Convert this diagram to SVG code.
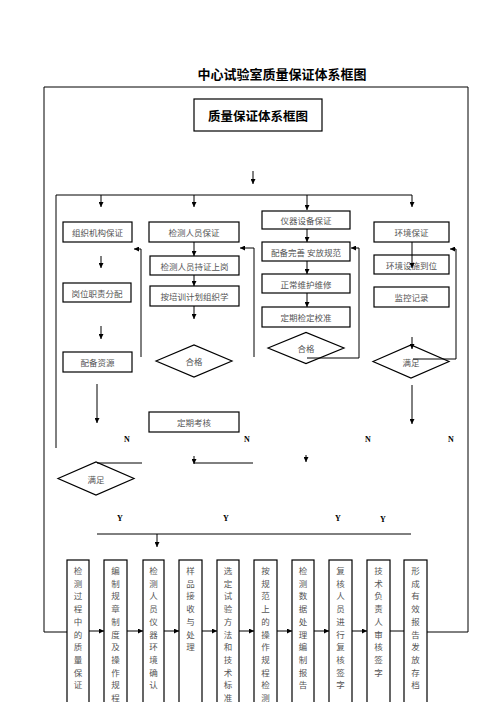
<svg xmlns="http://www.w3.org/2000/svg" width="496" height="702" viewBox="0 0 496 702">
<style>
.box{fill:#fff;stroke:#000;stroke-width:1.2}
.t{font-family:"Noto Sans CJK SC","Liberation Sans",sans-serif;font-size:8.5px;fill:#555;text-anchor:middle;dominant-baseline:central}
.b{font-family:"Noto Sans CJK SC","Liberation Sans",sans-serif;font-weight:bold;fill:#000;text-anchor:middle;dominant-baseline:central}
.c{fill:none;stroke:#000;stroke-width:1}
.l{font-family:"Liberation Serif",serif;font-size:8px;font-weight:bold;fill:#000;text-anchor:middle}
</style>
<defs>
<marker id="ah" markerWidth="5" markerHeight="5" refX="5" refY="2.5" orient="auto" markerUnits="userSpaceOnUse"><path d="M0,0 L5,2.5 L0,5 z" fill="#000"/></marker>
</defs>
<rect width="496" height="702" fill="#fff"/>
<text class="b" x="282" y="73" font-size="13">中心试验室质量保证体系框图</text>

<g id="n-title"><rect class="box" x="194" y="99" width="128" height="32"/><text class="b" x="258" y="115" font-size="12.5">质量保证体系框图</text></g>

<g id="n-org"><rect class="box" x="63" y="222" width="69" height="20"/><text class="t" x="97.5" y="232">组织机构保证</text></g>
<g id="n-duty"><rect class="box" x="63" y="283" width="68" height="19"/><text class="t" x="97" y="292.5">岗位职责分配</text></g>
<g id="n-res"><rect class="box" x="63" y="352" width="69" height="20"/><text class="t" x="97.5" y="362">配备资源</text></g>

<g id="n-staff"><rect class="box" x="149" y="222" width="90" height="20"/><text class="t" x="194" y="232">检测人员保证</text></g>
<g id="n-cert"><rect class="box" x="150" y="256" width="89" height="19"/><text class="t" x="194.5" y="265.5">检测人员持证上岗</text></g>
<g id="n-train"><rect class="box" x="150" y="286" width="89" height="20"/><text class="t" x="194.5" y="296">按培训计划组织学</text></g>
<g id="n-pass1"><polygon class="box" points="156,361 194,345 232,361 194,377"/><text class="t" x="194" y="361">合格</text></g>
<g id="n-exam"><rect class="box" x="149" y="412" width="90" height="20"/><text class="t" x="194" y="422">定期考核</text></g>

<g id="n-equip"><rect class="box" x="262" y="211" width="88" height="18"/><text class="t" x="306" y="220">仪器设备保证</text></g>
<g id="n-equip2"><rect class="box" x="262" y="242" width="88" height="19"/><text class="t" x="306" y="251.5">配备完善 安放规范</text></g>
<g id="n-maint"><rect class="box" x="262" y="274" width="88" height="19"/><text class="t" x="306" y="283.5">正常维护维修</text></g>
<g id="n-calib"><rect class="box" x="262" y="307" width="88" height="20"/><text class="t" x="306" y="317">定期检定校准</text></g>
<g id="n-pass2"><polygon class="box" points="268,348 306,332.5 344,348 306,363.5"/><text class="t" x="306" y="348">合格</text></g>

<g id="n-env"><rect class="box" x="374" y="222" width="75" height="20"/><text class="t" x="411.5" y="232">环境保证</text></g>
<g id="n-fac"><rect class="box" x="374" y="255" width="75" height="19"/><text class="t" x="411.5" y="264.5">环境设施到位</text></g>
<g id="n-mon"><rect class="box" x="374" y="287" width="75" height="20"/><text class="t" x="411.5" y="297">监控记录</text></g>
<g id="n-ok1"><polygon class="box" points="373,361.5 411,345 449,361.5 411,378"/><text class="t" x="411" y="361.5">满足</text></g>

<g id="n-ok2"><polygon class="box" points="58,478.5 96,462 134,478.5 96,495"/><text class="t" x="96" y="478.5">满足</text></g>

<g id="n-p1"><rect class="box" x="67" y="560" width="22" height="150"/><text class="t" x="78" y="570">检<tspan x="78" dy="12.7">测</tspan><tspan x="78" dy="12.7">过</tspan><tspan x="78" dy="12.7">程</tspan><tspan x="78" dy="12.7">中</tspan><tspan x="78" dy="12.7">的</tspan><tspan x="78" dy="12.7">质</tspan><tspan x="78" dy="12.7">量</tspan><tspan x="78" dy="12.7">保</tspan><tspan x="78" dy="12.7">证</tspan></text></g>
<g id="n-p2"><rect class="box" x="104" y="560" width="23" height="150"/><text class="t" x="115.5" y="570">编<tspan x="115.5" dy="12.7">制</tspan><tspan x="115.5" dy="12.7">规</tspan><tspan x="115.5" dy="12.7">章</tspan><tspan x="115.5" dy="12.7">制</tspan><tspan x="115.5" dy="12.7">度</tspan><tspan x="115.5" dy="12.7">及</tspan><tspan x="115.5" dy="12.7">操</tspan><tspan x="115.5" dy="12.7">作</tspan><tspan x="115.5" dy="12.7">规</tspan><tspan x="115.5" dy="12.7">程</tspan></text></g>
<g id="n-p3"><rect class="box" x="143" y="560" width="21" height="150"/><text class="t" x="153.5" y="570">检<tspan x="153.5" dy="12.7">测</tspan><tspan x="153.5" dy="12.7">人</tspan><tspan x="153.5" dy="12.7">员</tspan><tspan x="153.5" dy="12.7">仪</tspan><tspan x="153.5" dy="12.7">器</tspan><tspan x="153.5" dy="12.7">环</tspan><tspan x="153.5" dy="12.7">境</tspan><tspan x="153.5" dy="12.7">确</tspan><tspan x="153.5" dy="12.7">认</tspan></text></g>
<g id="n-p4"><rect class="box" x="179" y="560" width="23" height="150"/><text class="t" x="190.5" y="570">样<tspan x="190.5" dy="12.7">品</tspan><tspan x="190.5" dy="12.7">接</tspan><tspan x="190.5" dy="12.7">收</tspan><tspan x="190.5" dy="12.7">与</tspan><tspan x="190.5" dy="12.7">处</tspan><tspan x="190.5" dy="12.7">理</tspan></text></g>
<g id="n-p5"><rect class="box" x="217" y="560" width="22" height="150"/><text class="t" x="228" y="570">选<tspan x="228" dy="12.7">定</tspan><tspan x="228" dy="12.7">试</tspan><tspan x="228" dy="12.7">验</tspan><tspan x="228" dy="12.7">方</tspan><tspan x="228" dy="12.7">法</tspan><tspan x="228" dy="12.7">和</tspan><tspan x="228" dy="12.7">技</tspan><tspan x="228" dy="12.7">术</tspan><tspan x="228" dy="12.7">标</tspan><tspan x="228" dy="12.7">准</tspan></text></g>
<g id="n-p6"><rect class="box" x="254" y="560" width="23" height="150"/><text class="t" x="265.5" y="570">按<tspan x="265.5" dy="12.7">规</tspan><tspan x="265.5" dy="12.7">范</tspan><tspan x="265.5" dy="12.7">上</tspan><tspan x="265.5" dy="12.7">的</tspan><tspan x="265.5" dy="12.7">操</tspan><tspan x="265.5" dy="12.7">作</tspan><tspan x="265.5" dy="12.7">规</tspan><tspan x="265.5" dy="12.7">程</tspan><tspan x="265.5" dy="12.7">检</tspan><tspan x="265.5" dy="12.7">测</tspan></text></g>
<g id="n-p7"><rect class="box" x="292" y="560" width="22" height="150"/><text class="t" x="303" y="570">检<tspan x="303" dy="12.7">测</tspan><tspan x="303" dy="12.7">数</tspan><tspan x="303" dy="12.7">据</tspan><tspan x="303" dy="12.7">处</tspan><tspan x="303" dy="12.7">理</tspan><tspan x="303" dy="12.7">编</tspan><tspan x="303" dy="12.7">制</tspan><tspan x="303" dy="12.7">报</tspan><tspan x="303" dy="12.7">告</tspan></text></g>
<g id="n-p8"><rect class="box" x="329" y="560" width="23" height="150"/><text class="t" x="340.5" y="570">复<tspan x="340.5" dy="12.7">核</tspan><tspan x="340.5" dy="12.7">人</tspan><tspan x="340.5" dy="12.7">员</tspan><tspan x="340.5" dy="12.7">进</tspan><tspan x="340.5" dy="12.7">行</tspan><tspan x="340.5" dy="12.7">复</tspan><tspan x="340.5" dy="12.7">核</tspan><tspan x="340.5" dy="12.7">签</tspan><tspan x="340.5" dy="12.7">字</tspan></text></g>
<g id="n-p9"><rect class="box" x="367" y="560" width="23" height="150"/><text class="t" x="378.5" y="570">技<tspan x="378.5" dy="12.7">术</tspan><tspan x="378.5" dy="12.7">负</tspan><tspan x="378.5" dy="12.7">责</tspan><tspan x="378.5" dy="12.7">人</tspan><tspan x="378.5" dy="12.7">审</tspan><tspan x="378.5" dy="12.7">核</tspan><tspan x="378.5" dy="12.7">签</tspan><tspan x="378.5" dy="12.7">字</tspan></text></g>
<g id="n-p10"><rect class="box" x="404" y="560" width="23" height="150"/><text class="t" x="415.5" y="570">形<tspan x="415.5" dy="12.7">成</tspan><tspan x="415.5" dy="12.7">有</tspan><tspan x="415.5" dy="12.7">效</tspan><tspan x="415.5" dy="12.7">报</tspan><tspan x="415.5" dy="12.7">告</tspan><tspan x="415.5" dy="12.7">发</tspan><tspan x="415.5" dy="12.7">放</tspan><tspan x="415.5" dy="12.7">存</tspan><tspan x="415.5" dy="12.7">档</tspan></text></g>

<g id="connectors">
<path class="c" d="M67,632 H44 V87 H468 V632 H427" stroke-width="1.3"/>
<path class="c" d="M253,171 V184" marker-end="url(#ah)"/>
<path class="c" d="M56,448 V195 H412" stroke="#555"/>
<path class="c" d="M101,195 V207" marker-end="url(#ah)"/>
<path class="c" d="M194,195 V207" marker-end="url(#ah)"/>
<path class="c" d="M307,195 V210" marker-end="url(#ah)"/>
<path class="c" d="M412,195 V207" marker-end="url(#ah)"/>
<path class="c" d="M101,256 V268" marker-end="url(#ah)"/>
<path class="c" d="M101,326 V339" marker-end="url(#ah)"/>
<path class="c" d="M97,384 V423" marker-end="url(#ah)"/>
<path class="c" d="M194,242 V256" marker-end="url(#ah)"/>
<path class="c" d="M194,275 V286" marker-end="url(#ah)"/>
<path class="c" d="M194,306 V319" marker-end="url(#ah)"/>
<path class="c" d="M141,357 V249 H134" marker-end="url(#ah)"/>
<path class="c" d="M254,357 V248 H240" marker-end="url(#ah)"/>
<path class="c" d="M307,229 V242" marker-end="url(#ah)"/>
<path class="c" d="M307,261 V274" marker-end="url(#ah)"/>
<path class="c" d="M307,293 V307" marker-end="url(#ah)"/>
<path class="c" d="M307,358 H359 V248 H351" marker-end="url(#ah)"/>
<path class="c" d="M412,242 V268" marker-end="url(#ah)"/>
<path class="c" d="M413,359 H456 V249 H450" marker-end="url(#ah)"/>
<path class="c" d="M412,337 V349" marker-end="url(#ah)"/>
<path class="c" d="M412,385 V424" marker-end="url(#ah)"/>
<path class="c" d="M97,463 H142"/>
<path class="c" d="M194,463 H253"/>
<path class="c" d="M194,456 V464" marker-end="url(#ah)"/>
<path class="c" d="M306,455 V462" marker-end="url(#ah)"/>
<path class="c" d="M97,534 H411" stroke="#444"/>
<path class="c" d="M157,534 V547" marker-end="url(#ah)"/>
<path class="c" d="M89,631 H104" marker-end="url(#ah)"/>
<path class="c" d="M127,631 H143" marker-end="url(#ah)"/>
<path class="c" d="M164,631 H179" marker-end="url(#ah)"/>
<path class="c" d="M202,631 H217" marker-end="url(#ah)"/>
<path class="c" d="M239,631 H254" marker-end="url(#ah)"/>
<path class="c" d="M277,631 H292" marker-end="url(#ah)"/>
<path class="c" d="M314,631 H329" marker-end="url(#ah)"/>
<path class="c" d="M352,631 H367" marker-end="url(#ah)"/>
<path class="c" d="M390,631 H404"/>
</g>

<text class="l" x="127" y="442">N</text>
<text class="l" x="247" y="442">N</text>
<text class="l" x="368" y="442">N</text>
<text class="l" x="451" y="442">N</text>
<text class="l" x="120" y="521">Y</text>
<text class="l" x="226" y="521">Y</text>
<text class="l" x="338" y="521">Y</text>
<text class="l" x="383" y="522">Y</text>
</svg>
